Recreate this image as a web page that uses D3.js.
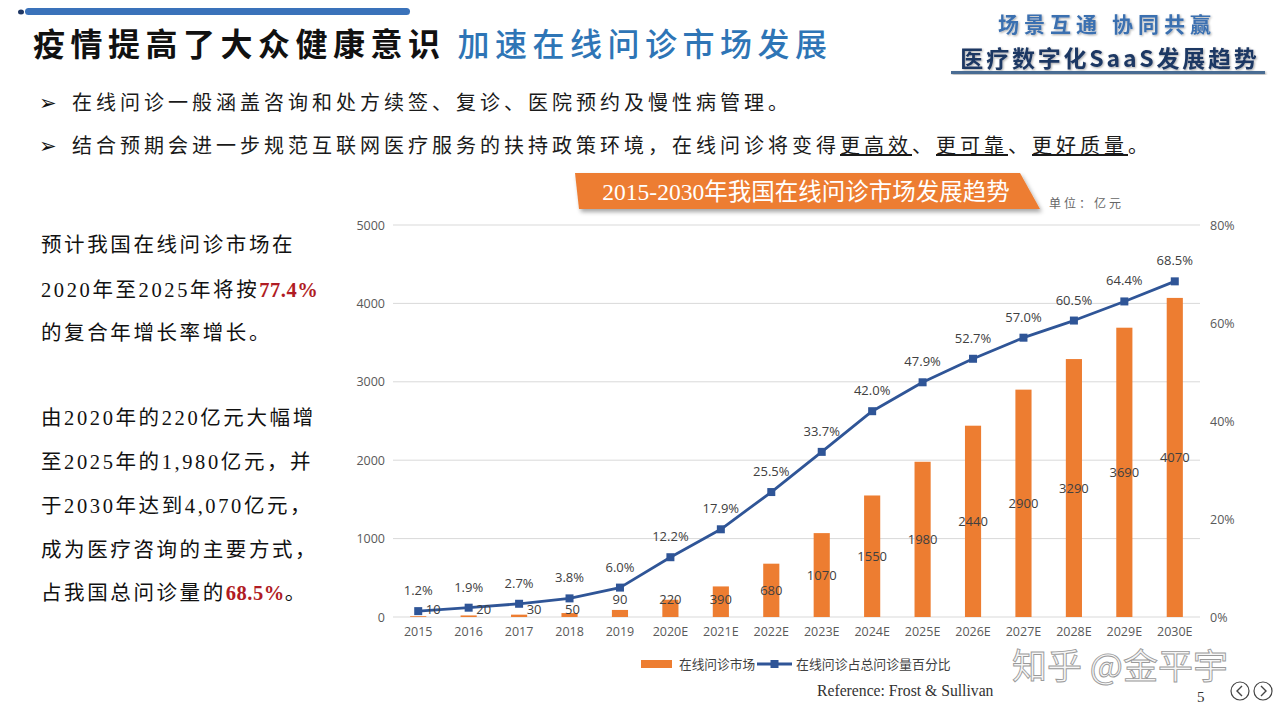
<!DOCTYPE html>
<html><head><meta charset="utf-8">
<script src="https://cdn.jsdelivr.net/npm/d3@7/dist/d3.min.js"></script>
<style>
html,body{margin:0;padding:0;background:#fff;}
svg{display:block;}
</style></head>
<body>
<svg id="c" width="1280" height="720"></svg>
<script>
const categories = ["2015","2016","2017","2018","2019","2020E","2021E","2022E","2023E","2024E","2025E","2026E","2027E","2028E","2029E","2030E"];
const marketValues = [10,20,30,50,90,220,390,680,1070,1550,1980,2440,2900,3290,3690,4070];
const sharePercent = [1.2,1.9,2.7,3.8,6.0,12.2,17.9,25.5,33.7,42.0,47.9,52.7,57.0,60.5,64.4,68.5];
const leftTicks = [0,1000,2000,3000,4000,5000];
const rightTicks = [0,20,40,60,80];
const seriesNames = ["在线问诊市场","在线问诊占总问诊量百分比"];

const svg = d3.select("#c");
const CJK = "'Noto Sans CJK SC','Noto Sans',sans-serif";
const MIX = "'Liberation Serif','Noto Sans CJK SC',serif";

const defs = svg.append("defs");
const sh = defs.append("filter").attr("id","sh").attr("x","-10%").attr("y","-20%").attr("width","130%").attr("height","160%");
sh.append("feDropShadow").attr("dx",2).attr("dy",3).attr("stdDeviation",2).attr("flood-color","#000").attr("flood-opacity",0.35);
const sh2 = defs.append("filter").attr("id","sh2");
sh2.append("feDropShadow").attr("dx",1).attr("dy",1).attr("stdDeviation",0.8).attr("flood-color","#000").attr("flood-opacity",0.35);

svg.append("rect").attr("x",25).attr("y",8).attr("width",385).attr("height",7).attr("rx",3.5).attr("fill","#3A72BA");
svg.append("ellipse").attr("cx",21).attr("cy",12).attr("rx",3).attr("ry",2.5).attr("fill","#1F3864");

const title = svg.append("text").attr("x",33).attr("y",56).attr("font-family",CJK).attr("font-size",32).attr("font-weight",700).attr("letter-spacing",5.5);
title.append("tspan").attr("fill","#111").text("疫情提高了大众健康意识");
title.append("tspan").attr("fill","#2E75B6").attr("font-weight",500).attr("dx",12).text("加速在线问诊市场发展");

svg.append("text").attr("x",1107).attr("y",32).attr("text-anchor","middle").attr("font-family",CJK).attr("font-size",21).attr("font-weight",700).attr("letter-spacing",5).attr("fill","#3A6FB0").attr("filter","url(#sh2)").text("场景互通 协同共赢");
svg.append("text").attr("x",1110).attr("y",67).attr("text-anchor","middle").attr("font-family",CJK).attr("font-size",23).attr("font-weight",700).attr("letter-spacing",2.8).attr("fill","#1F3864").attr("filter","url(#sh2)").text("医疗数字化SaaS发展趋势");
svg.append("rect").attr("x",951).attr("y",71).attr("width",314).attr("height",3).attr("fill","#4A6C93").attr("filter","url(#sh2)");

const bullets = [
  [{t:"在线问诊一般涵盖咨询和处方续签、复诊、医院预约及慢性病管理。"}],
  [{t:"结合预期会进一步规范互联网医疗服务的扶持政策环境，在线问诊将变得"},{t:"更高效",u:1},{t:"、"},{t:"更可靠",u:1},{t:"、"},{t:"更好质量",u:1},{t:"。"}]
];
bullets.forEach((parts,i)=>{
  const y = 110 + i*43;
  svg.append("text").attr("x",39).attr("y",y).attr("font-family","'DejaVu Sans',sans-serif").attr("font-size",21).attr("fill","#111").text("➢");
  const t = svg.append("text").attr("x",72).attr("y",y).attr("font-family",CJK).attr("font-size",20).attr("letter-spacing",4.0).attr("fill","#1a1a1a");
  parts.forEach(p=>{ const s=t.append("tspan").text(p.t); if(p.u) s.attr("text-decoration","underline"); });
});

svg.append("path").attr("d","M575,173 L1020,173 L1040,209 L579,209 Z").attr("fill","#ED7D31").attr("filter","url(#sh)");
svg.append("text").attr("x",806).attr("y",200).attr("text-anchor","middle").attr("font-family",MIX).attr("font-size",23.5).attr("fill","#fff").text("2015-2030年我国在线问诊市场发展趋势");
svg.append("text").attr("x",1049).attr("y",208).attr("font-family",CJK).attr("font-size",12).attr("fill","#666").attr("letter-spacing",3).text("单位：亿元");

const leftLines = [
  {y:252,parts:[{t:"预计我国在线问诊市场在"}]},
  {y:297,parts:[{t:"2020年至2025年将按"},{t:"77.4%",r:1}]},
  {y:340,parts:[{t:"的复合年增长率增长。"}]},
  {y:425,parts:[{t:"由2020年的220亿元大幅增"}]},
  {y:469,parts:[{t:"至2025年的1,980亿元，并"}]},
  {y:513,parts:[{t:"于2030年达到4,070亿元，"}]},
  {y:557,parts:[{t:"成为医疗咨询的主要方式，"}]},
  {y:600,parts:[{t:"占我国总问诊量的"},{t:"68.5%",r:1},{t:"。"}]}
];
leftLines.forEach(l=>{
  const t = svg.append("text").attr("x",41).attr("y",l.y).attr("font-family",MIX).attr("font-size",20.5).attr("letter-spacing",2.6).attr("fill","#111");
  l.parts.forEach(p=>{ const s=t.append("tspan").text(p.t); if(p.r) s.attr("fill","#B01C24").attr("font-weight",700).attr("letter-spacing",0.5); });
});

const x0 = 393, x1 = 1200, yTop = 225, yBot = 617;
const x = d3.scaleBand().domain(categories).range([x0,x1]).paddingInner(0.68).paddingOuter(0.34);
const yL = d3.scaleLinear().domain([0,5000]).range([yBot,yTop]);
const yR = d3.scaleLinear().domain([0,80]).range([yBot,yTop]);
const cx = c => x(c) + x.bandwidth()/2;

const g = svg.append("g");
g.selectAll(".grid").data(leftTicks).join("line")
  .attr("x1",x0).attr("x2",x1).attr("y1",d=>yL(d)).attr("y2",d=>yL(d))
  .attr("stroke","#D9D9D9").attr("stroke-width",1);

const tickFont = "'Open Sans','Noto Sans CJK SC',sans-serif";
const axL = g.append("g").attr("transform",`translate(${x0},0)`).call(d3.axisLeft(yL).tickValues(leftTicks).tickSize(0).tickPadding(8).tickFormat(d3.format("d")));
const axR = g.append("g").attr("transform",`translate(${x1},0)`).call(d3.axisRight(yR).tickValues(rightTicks).tickSize(0).tickPadding(10).tickFormat(d=>d+"%"));
const axB = g.append("g").attr("transform",`translate(0,${yBot})`).call(d3.axisBottom(x).tickSize(0).tickPadding(10));
[axL,axR,axB].forEach(a=>{
  a.select(".domain").remove();
  a.selectAll("text").attr("font-family",tickFont).attr("font-size",12.5).attr("fill","#595959");
});

const data = categories.map((c,i)=>({c,v:marketValues[i],p:sharePercent[i]}));
g.selectAll(".bar").data(data).join("rect")
  .attr("x",d=>x(d.c)).attr("width",x.bandwidth())
  .attr("y",d=>yL(d.v)).attr("height",d=>yBot-yL(d.v))
  .attr("fill","#ED7D31");

g.append("path").datum(data)
  .attr("d",d3.line().x(d=>cx(d.c)).y(d=>yR(d.p)))
  .attr("fill","none").attr("stroke","#2F5597").attr("stroke-width",2.8).attr("stroke-linejoin","round");
g.selectAll(".mk").data(data).join("rect")
  .attr("x",d=>cx(d.c)-4).attr("y",d=>yR(d.p)-4).attr("width",8).attr("height",8).attr("fill","#2F5597");

g.selectAll(".bl").data(data).join("text")
  .attr("x",d=>cx(d.c) + (d.v<40 ? 15 : (d.v<60 ? 3 : 0)))
  .attr("y",d=> d.v<60 ? yBot-3 : Math.min((yL(d.v)+yBot)/2, yBot-18) + 5)
  .attr("text-anchor","middle").attr("font-family",tickFont).attr("font-size",13).attr("fill","#404040")
  .text(d=>d.v);
g.selectAll(".pl").data(data).join("text")
  .attr("x",d=>cx(d.c)).attr("y",d=>yR(d.p)-16)
  .attr("text-anchor","middle").attr("font-family",tickFont).attr("font-size",13).attr("fill","#404040")
  .text(d=>d.p.toFixed(1)+"%");

const lg = svg.append("g").attr("transform","translate(641,664)");
lg.append("rect").attr("x",0).attr("y",-4).attr("width",31).attr("height",8).attr("fill","#ED7D31");
lg.append("text").attr("x",38).attr("y",5).attr("font-family",CJK).attr("font-size",12.7).attr("fill","#404040").text(seriesNames[0]);
lg.append("line").attr("x1",116).attr("x2",151).attr("y1",0).attr("y2",0).attr("stroke","#2F5597").attr("stroke-width",3);
lg.append("rect").attr("x",129.5).attr("y",-4).attr("width",8).attr("height",8).attr("fill","#2F5597");
lg.append("text").attr("x",155).attr("y",5).attr("font-family",CJK).attr("font-size",12.9).attr("fill","#404040").text(seriesNames[1]);

svg.append("text").attr("x",817).attr("y",696).attr("font-family","'Liberation Serif',serif").attr("font-size",15.7).attr("fill","#333").text("Reference: Frost & Sullivan");

svg.append("text").attr("x",1012).attr("y",679).attr("font-family",CJK).attr("font-size",35).attr("fill","#f6f6f6").attr("stroke","#9a9a9a").attr("stroke-width",0.9).text("知乎 @金平宇");
svg.append("text").attr("x",1197).attr("y",702).attr("font-family","'Liberation Serif',serif").attr("font-size",15).attr("fill","#333").text("5");
[1240,1263].forEach((cxp,i)=>{
  svg.append("circle").attr("cx",cxp).attr("cy",691).attr("r",9).attr("fill","#fff").attr("stroke","#444").attr("stroke-width",1.2);
  svg.append("path").attr("d", i===0 ? `M${cxp+2},686 L${cxp-3},691 L${cxp+2},696` : `M${cxp-2},686 L${cxp+3},691 L${cxp-2},696`).attr("fill","none").attr("stroke","#444").attr("stroke-width",1.4);
});
</script>
</body></html>
